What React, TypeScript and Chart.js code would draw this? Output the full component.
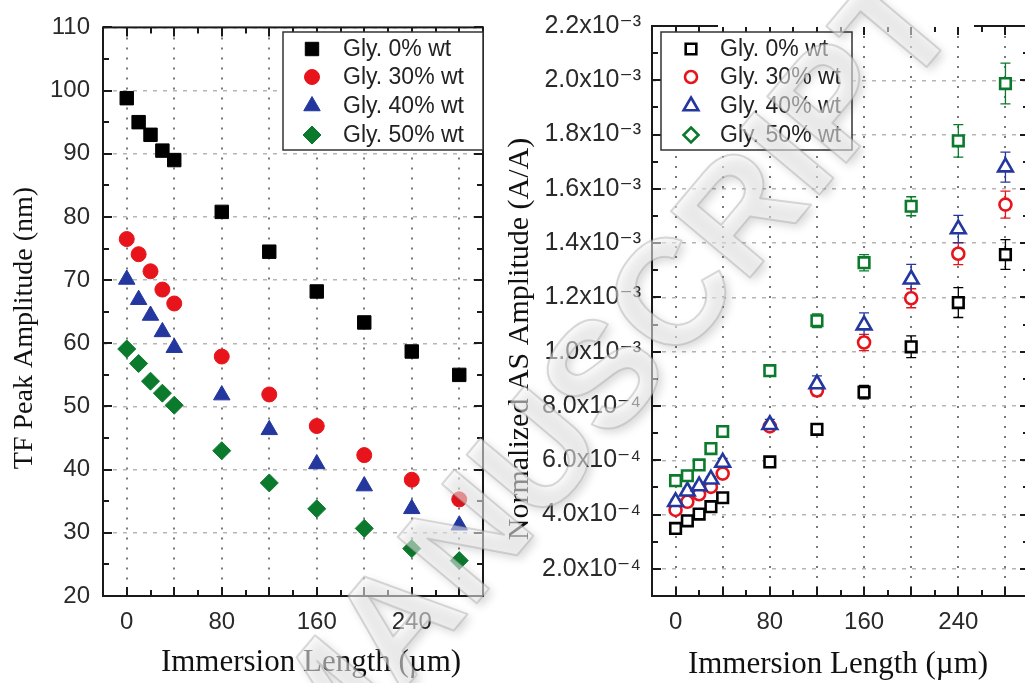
import React, { useEffect, useRef } from 'react';
import { Chart, registerables } from 'chart.js';

Chart.register(...registerables);

// ---------------- data ----------------
const X_VALUES = [0, 10, 20, 30, 40, 80, 120, 160, 200, 240, 280];
const X_GRID = [0, 40, 80, 120, 160, 200, 240, 280];
const X_TICK_LABELS = [0, 80, 160, 240];
const SERIES_LABELS = ['Gly. 0% wt', 'Gly. 30% wt', 'Gly. 40% wt', 'Gly. 50% wt'];
const SERIES_COLORS = ['#000000', '#e8141c', '#23379e', '#0b7a2c'];

const TF_GLY0 = [98.8, 95.0, 93.0, 90.5, 89.0, 80.8, 74.5, 68.2, 63.3, 58.7, 55.0];
const TF_GLY30 = [76.5, 74.1, 71.4, 68.5, 66.3, 57.9, 51.9, 46.9, 42.3, 38.4, 35.3];
const TF_GLY40 = [70.1, 66.9, 64.4, 61.8, 59.3, 51.8, 46.3, 40.9, 37.4, 33.8, 31.2];
const TF_GLY50 = [59.1, 56.8, 54.0, 52.1, 50.2, 43.0, 37.9, 33.8, 30.7, 27.5, 25.6];
const TF_Y_TICKS = [20, 30, 40, 50, 60, 70, 80, 90, 100, 110];

const AS_GLY0 = [3.49e-4, 3.77e-4, 4.02e-4, 4.29e-4, 4.62e-4, 5.94e-4, 7.14e-4, 8.51e-4, 1.018e-3, 1.181e-3, 1.358e-3];
const AS_GLY30 = [4.17e-4, 4.47e-4, 4.75e-4, 5.02e-4, 5.51e-4, 7.25e-4, 8.57e-4, 1.034e-3, 1.197e-3, 1.361e-3, 1.542e-3];
const AS_GLY40 = [4.47e-4, 4.86e-4, 5.05e-4, 5.30e-4, 5.92e-4, 7.31e-4, 8.81e-4, 1.098e-3, 1.267e-3, 1.452e-3, 1.680e-3];
const AS_GLY50 = [5.25e-4, 5.43e-4, 5.83e-4, 6.43e-4, 7.06e-4, 9.30e-4, 1.114e-3, 1.328e-3, 1.536e-3, 1.777e-3, 1.988e-3];
const AS_ERR0 = [1e-5, 1e-5, 1e-5, 1e-5, 1e-5, 1.5e-5, 2e-5, 2.5e-5, 4e-5, 5.5e-5, 5.5e-5];
const AS_ERR30 = [1e-5, 1e-5, 1e-5, 1e-5, 1.2e-5, 1.5e-5, 2e-5, 3e-5, 3.5e-5, 4e-5, 5e-5];
const AS_ERR40 = [1e-5, 1e-5, 1e-5, 1e-5, 1.5e-5, 2e-5, 3e-5, 4.5e-5, 5.5e-5, 5e-5, 5.5e-5];
const AS_ERR50 = [1e-5, 1e-5, 1e-5, 1e-5, 1.5e-5, 2e-5, 2.5e-5, 3e-5, 3.5e-5, 6e-5, 7.5e-5];
const AS_Y_TICKS = [2e-4, 4e-4, 6e-4, 8e-4, 1e-3, 1.2e-3, 1.4e-3, 1.6e-3, 1.8e-3, 2.0e-3, 2.2e-3];

const X_TITLE = 'Immersion Length (\u00b5m)';
const TF_Y_TITLE = 'TF Peak Amplitude (nm)';
const AS_Y_TITLE = 'Normalized AS Amplitude (A/A)';
const WATERMARK = 'MANUSCRIPT';

// ---------------- helpers ----------------
const SANS = '"Liberation Sans", Arial, "DejaVu Sans", sans-serif';
const SERIF = '"Liberation Serif", "Times New Roman", "DejaVu Serif", serif';
const SUP: Record<string, string> = { '-': '\u207b', '0': '\u2070', '1': '\u00b9', '2': '\u00b2', '3': '\u00b3', '4': '\u2074', '5': '\u2075', '6': '\u2076', '7': '\u2077', '8': '\u2078', '9': '\u2079' };

function sciLabel(v: number): string {
  const exp = Math.floor(Math.log10(v) + 1e-9);
  const mant = v / Math.pow(10, exp);
  const sup = String(exp).split('').map((c) => SUP[c] || c).join('');
  return mant.toFixed(1) + 'x10' + sup;
}

function drawMarker(ctx: CanvasRenderingContext2D, style: string, x: number, y: number, r: number) {
  ctx.beginPath();
  if (style === 'rect') {
    const s = r * Math.SQRT1_2;
    ctx.rect(x - s, y - s, 2 * s, 2 * s);
  } else if (style === 'circle') {
    ctx.arc(x, y, r, 0, Math.PI * 2);
  } else if (style === 'triangle') {
    ctx.moveTo(x, y - r);
    ctx.lineTo(x + Math.sin((2 * Math.PI) / 3) * r, y + 0.5 * r);
    ctx.lineTo(x - Math.sin((2 * Math.PI) / 3) * r, y + 0.5 * r);
    ctx.closePath();
  } else if (style === 'rectRot') {
    ctx.moveTo(x, y - r);
    ctx.lineTo(x + r, y);
    ctx.lineTo(x, y + r);
    ctx.lineTo(x - r, y);
    ctx.closePath();
  }
}

// frame with inward ticks on all 4 sides
const framePlugin = {
  id: 'frame',
  afterDraw(chart: any, _args: any, opts: any) {
    const { ctx, chartArea } = chart;
    const { left, right, top, bottom } = chartArea;
    const xs = chart.scales.x;
    const ys = chart.scales.y;
    ctx.save();
    ctx.strokeStyle = '#1a1a1a';
    ctx.lineWidth = 2;
    ctx.beginPath();
    const n0 = Math.ceil(xs.min / opts.xMinor - 1e-9);
    const n1 = Math.floor(xs.max / opts.xMinor + 1e-9);
    for (let n = n0; n <= n1; n++) {
      const v = n * opts.xMinor;
      const major = Math.abs(v / opts.xMajor - Math.round(v / opts.xMajor)) < 1e-6;
      const len = major ? opts.majorLen : opts.minorLen;
      const px = Math.round(xs.getPixelForValue(v));
      ctx.moveTo(px, bottom);
      ctx.lineTo(px, bottom - len);
      ctx.moveTo(px, top);
      ctx.lineTo(px, top + len);
    }
    const m0 = Math.ceil(ys.min / opts.yMinor - 1e-9);
    const m1 = Math.floor(ys.max / opts.yMinor + 1e-9);
    for (let n = m0; n <= m1; n++) {
      const v = n * opts.yMinor;
      const major = Math.abs(v / opts.yMajor - Math.round(v / opts.yMajor)) < 1e-6;
      const len = major ? opts.majorLen : opts.minorLen;
      const py = Math.round(ys.getPixelForValue(v));
      ctx.moveTo(left, py);
      ctx.lineTo(left + len, py);
      ctx.moveTo(right, py);
      ctx.lineTo(right - len, py);
    }
    ctx.stroke();
    ctx.strokeRect(left, top, right - left, bottom - top);
    if (opts.gap) {
      // white mask over part of the top edge, as in the scanned original
      ctx.fillStyle = '#ffffff';
      ctx.fillRect(opts.gap.x, 0, opts.gap.w, top + 1);
    }
    ctx.restore();
  },
};

// error bars from dataset.errors
const errorBarPlugin = {
  id: 'errorBars',
  beforeDatasetsDraw(chart: any) {
    const { ctx } = chart;
    const ys = chart.scales.y;
    chart.data.datasets.forEach((ds: any, di: number) => {
      if (!ds.errors) return;
      const meta = chart.getDatasetMeta(di);
      ctx.save();
      ctx.strokeStyle = ds.borderColor;
      ctx.lineWidth = 1.3;
      ctx.beginPath();
      meta.data.forEach((pt: any, i: number) => {
        const v = ds.data[i].y;
        const e = ds.errors[i];
        const y1 = ys.getPixelForValue(v + e);
        const y2 = ys.getPixelForValue(v - e);
        ctx.moveTo(pt.x, y1);
        ctx.lineTo(pt.x, y2);
        ctx.moveTo(pt.x - 5, y1);
        ctx.lineTo(pt.x + 5, y1);
        ctx.moveTo(pt.x - 5, y2);
        ctx.lineTo(pt.x + 5, y2);
      });
      ctx.stroke();
      ctx.restore();
    });
  },
};

// boxed legend inside plot
const boxLegendPlugin = {
  id: 'boxLegend',
  afterDraw(chart: any, _args: any, opts: any) {
    const { ctx } = chart;
    ctx.save();
    ctx.fillStyle = '#ffffff';
    ctx.fillRect(opts.x, opts.y, opts.w, opts.h);
    ctx.strokeStyle = '#333';
    ctx.lineWidth = 1.5;
    ctx.strokeRect(opts.x, opts.y, opts.w, opts.h);
    chart.data.datasets.forEach((ds: any, i: number) => {
      const cy = opts.rows[i];
      const style = ds.legendStyle || ds.pointStyle;
      drawMarker(ctx, style, opts.markerX, cy, ds.pointRadius);
      ctx.fillStyle = ds.backgroundColor;
      ctx.fill();
      ctx.lineWidth = ds.borderWidth;
      ctx.strokeStyle = ds.borderColor;
      ctx.stroke();
      ctx.fillStyle = '#222';
      ctx.font = `23px ${SANS}`;
      ctx.textAlign = 'left';
      ctx.textBaseline = 'middle';
      ctx.fillText(ds.label, opts.textX, cy + 1);
    });
    ctx.restore();
  },
};

// axis titles
const titlesPlugin = {
  id: 'axisTitles',
  afterDraw(chart: any, _args: any, opts: any) {
    const { ctx } = chart;
    ctx.save();
    ctx.fillStyle = '#111';
    ctx.textAlign = 'center';
    ctx.textBaseline = 'middle';
    ctx.font = `${opts.xSize}px ${SERIF}`;
    ctx.fillText(opts.xText, opts.xX, opts.xY);
    ctx.translate(opts.yX, opts.yY);
    ctx.rotate(-Math.PI / 2);
    ctx.font = `${opts.ySize}px ${SERIF}`;
    ctx.fillText(opts.yText, 0, 0);
    ctx.restore();
  },
};

// faint diagonal "MANUSCRIPT" watermark spanning both panels
const watermarkPlugin = {
  id: 'watermark',
  afterDraw(chart: any, _args: any, opts: any) {
    const { ctx } = chart;
    ctx.save();
    ctx.translate(610 - opts.offsetX, 380);
    ctx.rotate((-50 * Math.PI) / 180);
    ctx.font = `bold 150px ${SANS}`;
    ctx.textAlign = 'center';
    ctx.textBaseline = 'middle';
    ctx.lineJoin = 'round';
    ctx.shadowColor = 'rgba(0,0,0,0.28)';
    ctx.shadowBlur = 10;
    ctx.shadowOffsetX = 4;
    ctx.shadowOffsetY = 4;
    ctx.fillStyle = 'rgba(245,245,245,0.55)';
    ctx.fillText(WATERMARK, 0, 0);
    ctx.shadowColor = 'rgba(0,0,0,0)';
    ctx.strokeStyle = 'rgba(150,150,150,0.35)';
    ctx.lineWidth = 2;
    ctx.strokeText(WATERMARK, 0, 0);
    ctx.restore();
  },
};

function pts(vals: number[]) {
  return X_VALUES.map((x, i) => ({ x, y: vals[i] }));
}

function xScale(height: number) {
  return {
    type: 'linear',
    min: -20,
    max: 300,
    afterBuildTicks: (s: any) => {
      s.ticks = X_GRID.map((v) => ({ value: v }));
    },
    afterFit: (s: any) => {
      s.height = height;
    },
    grid: { color: '#7a7a7a', lineWidth: 2, drawTicks: false },
    border: { display: false, dash: [2, 8] },
    ticks: {
      autoSkip: false,
      maxRotation: 0,
      padding: 12,
      color: '#2a2a2a',
      font: { family: SANS, size: 24 },
      callback: (v: any) => (X_TICK_LABELS.includes(Number(v)) ? String(v) : ''),
    },
  };
}

function leftConfig(): any {
  const styles = ['rect', 'circle', 'triangle', 'rectRot'];
  const radii = [9.5, 7.5, 9.5, 9];
  const vals = [TF_GLY0, TF_GLY30, TF_GLY40, TF_GLY50];
  return {
    type: 'scatter',
    data: {
      datasets: vals.map((v, i) => ({
        label: SERIES_LABELS[i],
        data: pts(v),
        order: 3 - i,
        pointStyle: styles[i],
        pointRadius: radii[i],
        backgroundColor: SERIES_COLORS[i],
        borderColor: SERIES_COLORS[i],
        borderWidth: 1,
      })),
    },
    options: {
      animation: false,
      responsive: false,
      devicePixelRatio: 1,
      events: [],
      layout: { padding: { top: 23, right: 17, left: 0, bottom: 0 } },
      plugins: {
        legend: { display: false },
        tooltip: { enabled: false },
        frame: { xMinor: 20, xMajor: 40, yMinor: 5, yMajor: 10, majorLen: 9, minorLen: 6 },
        boxLegend: { x: 283, y: 32, w: 200, h: 118, markerX: 312, textX: 343, rows: [49, 77, 106, 135] },
        axisTitles: { xText: X_TITLE, xX: 311, xY: 663, xSize: 31, yText: TF_Y_TITLE, yX: 25, yY: 328, ySize: 28 },
        watermark: { offsetX: 0 },
      },
      scales: {
        x: xScale(87),
        y: {
          type: 'linear',
          min: 20,
          max: 110,
          afterBuildTicks: (s: any) => {
            s.ticks = TF_Y_TICKS.map((v) => ({ value: v }));
          },
          afterFit: (s: any) => {
            s.width = 103;
          },
          grid: { color: '#b5b5b5', lineWidth: 1.5, drawTicks: false },
          border: { display: false, dash: [4, 6] },
          ticks: { padding: 13, color: '#2a2a2a', font: { family: SANS, size: 24 } },
        },
      },
    },
    plugins: [errorBarPlugin, framePlugin, boxLegendPlugin, titlesPlugin, watermarkPlugin],
  };
}

function rightConfig(): any {
  const styles = ['rect', 'circle', 'triangle', 'rect'];
  const legendStyles = ['rect', 'circle', 'triangle', 'rectRot'];
  const radii = [7.5, 6, 8.5, 7.5];
  const vals = [AS_GLY0, AS_GLY30, AS_GLY40, AS_GLY50];
  const errs = [AS_ERR0, AS_ERR30, AS_ERR40, AS_ERR50];
  return {
    type: 'scatter',
    data: {
      datasets: vals.map((v, i) => ({
        label: SERIES_LABELS[i],
        data: pts(v),
        errors: errs[i],
        order: 3 - i,
        pointStyle: styles[i],
        legendStyle: legendStyles[i],
        pointRadius: radii[i],
        backgroundColor: '#ffffff',
        borderColor: SERIES_COLORS[i],
        borderWidth: 2.6,
      })),
    },
    options: {
      animation: false,
      responsive: false,
      devicePixelRatio: 1,
      events: [],
      layout: { padding: { top: 24, right: 31, left: 0, bottom: 0 } },
      plugins: {
        legend: { display: false },
        tooltip: { enabled: false },
        frame: { xMinor: 20, xMajor: 40, yMinor: 1e-4, yMajor: 2e-4, majorLen: 9, minorLen: 6, gap: { x: 218, w: 256 } },
        boxLegend: { x: 161, y: 32, w: 191, h: 118, markerX: 191, textX: 220, rows: [49, 77, 106, 135] },
        axisTitles: { xText: X_TITLE, xX: 338, xY: 665, xSize: 31, yText: AS_Y_TITLE, yX: 20, yY: 339, ySize: 30 },
        watermark: { offsetX: 500 },
      },
      scales: {
        x: xScale(87),
        y: {
          type: 'linear',
          min: 1e-4,
          max: 2.2e-3,
          afterBuildTicks: (s: any) => {
            s.ticks = AS_Y_TICKS.map((v) => ({ value: v }));
          },
          afterFit: (s: any) => {
            s.width = 152;
          },
          grid: { color: '#b5b5b5', lineWidth: 1.5, drawTicks: false },
          border: { display: false, dash: [4, 6] },
          ticks: {
            padding: 11,
            color: '#2a2a2a',
            font: { family: SANS, size: 25 },
            callback: (v: any) => sciLabel(Number(v)),
          },
        },
      },
    },
    plugins: [errorBarPlugin, framePlugin, boxLegendPlugin, titlesPlugin, watermarkPlugin],
  };
}

function ChartCanvas(props: { make: () => any; left: number; width: number; height: number }) {
  const ref = useRef<HTMLCanvasElement>(null);
  useEffect(() => {
    const chart = new Chart(ref.current as HTMLCanvasElement, props.make());
    return () => chart.destroy();
  }, []);
  return (
    <canvas
      ref={ref}
      width={props.width}
      height={props.height}
      style={{ position: 'absolute', left: props.left, top: 0, width: props.width, height: props.height }}
    />
  );
}

export default function App() {
  return (
    <div
      style={{
        position: 'absolute',
        left: 0,
        top: 0,
        width: 1025,
        height: 683,
        overflow: 'hidden',
        background: '#ffffff',
      }}
    >
      <ChartCanvas make={leftConfig} left={0} width={500} height={683} />
      <ChartCanvas make={rightConfig} left={500} width={560} height={683} />
    </div>
  );
}
